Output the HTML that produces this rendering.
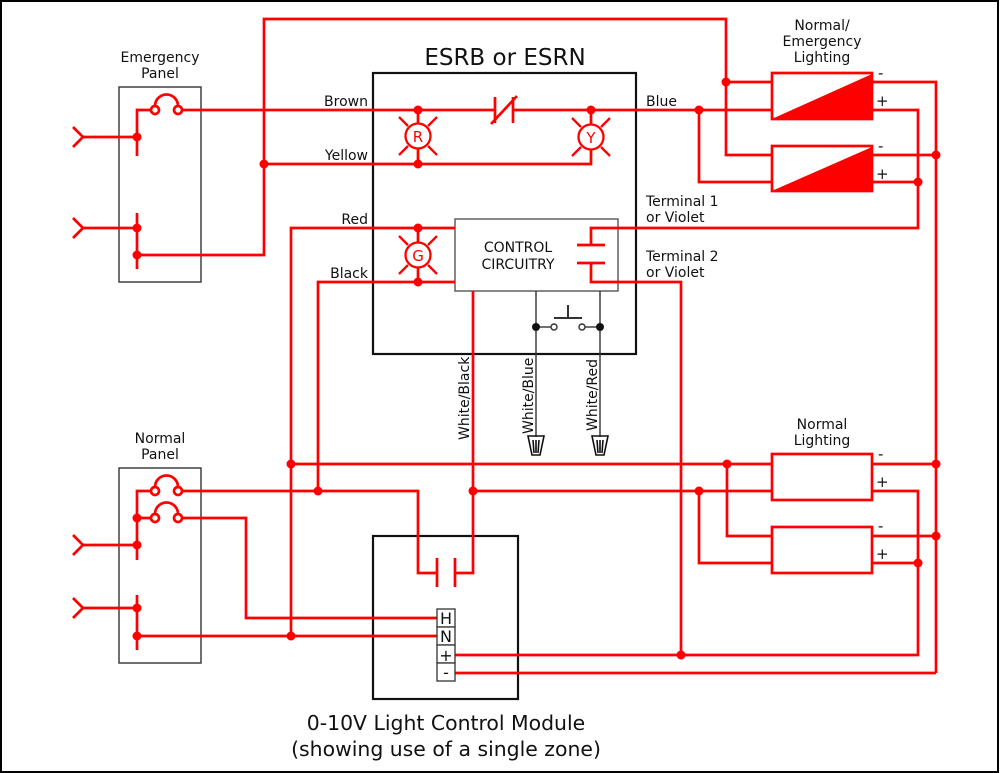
<!DOCTYPE html>
<html><head><meta charset="utf-8"><style>
html,body{margin:0;padding:0;background:#fff}
svg{display:block}
text{font-family:"DejaVu Sans","Liberation Sans",sans-serif;fill:#111}
</style></head><body>
<svg width="1000" height="773" viewBox="0 0 1000 773" xmlns="http://www.w3.org/2000/svg">
<rect x="1" y="1" width="997" height="771" fill="none" stroke="#000" stroke-width="2"/>
<g fill="none" stroke="#333" stroke-width="1.4">
<rect x="119" y="87" width="82" height="195"/>
<rect x="119" y="468" width="82" height="195"/>
<rect x="455" y="219" width="163" height="72" stroke="#555"/>
</g>
<g fill="none" stroke="#111" stroke-width="2.2">
<rect x="373" y="73" width="263" height="281"/>
<rect x="373" y="536" width="145" height="163"/>
</g>
<g stroke="#333" stroke-width="1.4" fill="none">
<line x1="536" y1="291" x2="536" y2="437"/>
<line x1="600" y1="291" x2="600" y2="437"/>
<line x1="536" y1="327" x2="551" y2="327"/>
<line x1="585" y1="327" x2="600" y2="327"/>
<line x1="554" y1="318" x2="582" y2="318" stroke-width="2"/>
<line x1="568" y1="305" x2="568" y2="318" stroke-width="2"/>
<circle cx="554" cy="327" r="3" fill="#fff"/>
<circle cx="582" cy="327" r="3" fill="#fff"/>
<path d="M528 436 L544 436 L540 455 L532 455 Z M533 440 L534 453 M536 440 L536 453 M539 440 L538 453" stroke="#111" stroke-width="1.6"/>
<path d="M592 436 L608 436 L604 455 L596 455 Z M597 440 L598 453 M600 440 L600 453 M603 440 L602 453" stroke="#111" stroke-width="1.6"/>
</g>
<circle cx="536" cy="327" r="4" fill="#111"/>
<circle cx="600" cy="327" r="4" fill="#111"/>
<g stroke="#f00" stroke-width="2.7" fill="none">
<path d="M73 127 L83 137 L73 147 M83 137 L137 137"/>
<path d="M73 218 L83 228 L73 238 M83 228 L137 228"/>
<path d="M137 156 V110 H151"/>
<path d="M137 213 V269"/>
<path d="M155 106 A11.5 11.5 0 0 1 178 106"/>
<circle cx="155" cy="110" r="4" fill="#fff"/>
<circle cx="178" cy="110" r="4" fill="#fff"/>
<path d="M182 110 H495 M513 110 H772"/>
<path d="M495 97 V123 M513 97 V123 M491 124 L517 96"/>
<path d="M137 255 H264 V19 H726 V155 H772 M726 82 H772"/>
<path d="M264 164 H591 V149"/>
<path d="M418 110 V124 M418 148 V164 M591 110 V125"/>
<path d="M699 110 V182 H772"/>
<rect x="772" y="73" width="100" height="46"/>
<rect x="772" y="146" width="100" height="45"/>
<path d="M872 82 H936 V673 M872 155 H936 M872 110 H918 V228 H591 V245"/>
<path d="M577 245 H605 M577 263 H605"/>
<path d="M872 182 H918"/>
<path d="M591 263 V282 H681 V655"/>
<path d="M291 636 V228 H455 M318 491 V282 H455"/>
<path d="M418 228 V243 M418 267 V282"/>
<path d="M73 535 L83 545 L73 555 M83 545 L137 545"/>
<path d="M73 598 L83 608 L73 618 M83 608 L137 608"/>
<path d="M137 560 V491 H151 M137 518 H151"/>
<path d="M137 595 V650"/>
<path d="M155 487 A11.5 11.5 0 0 1 178 487 M155 514 A11.5 11.5 0 0 1 178 514"/>
<circle cx="155" cy="491" r="4" fill="#fff"/>
<circle cx="178" cy="491" r="4" fill="#fff"/>
<circle cx="155" cy="518" r="4" fill="#fff"/>
<circle cx="178" cy="518" r="4" fill="#fff"/>
<path d="M182 491 H418 V573 H437 M437 558 V587 M455 558 V587 M455 573 H473 V291"/>
<path d="M473 491 H772"/>
<path d="M182 518 H246 V618 H437"/>
<path d="M137 636 H437"/>
<path d="M291 464 H772"/>
<path d="M455 655 H918 V491 H872 M455 673 H936"/>
<rect x="772" y="454" width="100" height="46"/>
<rect x="772" y="527" width="100" height="46"/>
<path d="M727 464 V536 H772 M699 491 V563 H772"/>
<path d="M872 464 H936 M872 536 H936 M872 563 H918"/>
</g>
<path d="M774 118 L872 74 L872 118 Z" fill="#f00"/>
<path d="M774 190 L872 147 L872 190 Z" fill="#f00"/>
<g stroke="#f00" stroke-width="2.3" fill="#fff">
<g transform="translate(418,136)"><circle r="12.5"/><path d="M10 10 L19 19 M-10 10 L-19 19 M10 -10 L19 -19 M-10 -10 L-19 -19"/></g>
<g transform="translate(591,137)"><circle r="12.5"/><path d="M10 10 L19 19 M-10 10 L-19 19 M10 -10 L19 -19 M-10 -10 L-19 -19"/></g>
<g transform="translate(418,255)"><circle r="12.5"/><path d="M10 10 L19 19 M-10 10 L-19 19 M10 -10 L19 -19 M-10 -10 L-19 -19"/></g>
</g>
<g font-size="15" text-anchor="middle">
<text x="418" y="142" style="fill:#f00">R</text>
<text x="591" y="143" style="fill:#f00">Y</text>
<text x="418" y="261" style="fill:#f00">G</text>
</g>
<g fill="#f00">
<circle cx="137" cy="137" r="4.5"/><circle cx="137" cy="228" r="4.5"/><circle cx="137" cy="255" r="4.5"/>
<circle cx="264" cy="164" r="4.5"/><circle cx="418" cy="110" r="4.5"/><circle cx="418" cy="164" r="4.5"/>
<circle cx="591" cy="110" r="4.5"/><circle cx="699" cy="110" r="4.5"/><circle cx="726" cy="82" r="4.5"/>
<circle cx="936" cy="155" r="4.5"/><circle cx="918" cy="182" r="4.5"/>
<circle cx="418" cy="228" r="4.5"/><circle cx="418" cy="282" r="4.5"/>
<circle cx="137" cy="518" r="4.5"/><circle cx="137" cy="545" r="4.5"/><circle cx="137" cy="608" r="4.5"/><circle cx="137" cy="636" r="4.5"/>
<circle cx="291" cy="464" r="4.5"/><circle cx="291" cy="636" r="4.5"/><circle cx="318" cy="491" r="4.5"/>
<circle cx="473" cy="491" r="4.5"/><circle cx="699" cy="491" r="4.5"/><circle cx="727" cy="464" r="4.5"/>
<circle cx="936" cy="464" r="4.5"/><circle cx="936" cy="536" r="4.5"/><circle cx="918" cy="563" r="4.5"/>
<circle cx="681" cy="655" r="4.5"/>
</g>
<g fill="#fff" stroke="#333" stroke-width="1.3">
<rect x="437" y="609" width="18" height="18"/><rect x="437" y="627" width="18" height="18"/>
<rect x="437" y="645" width="18" height="18"/><rect x="437" y="663" width="18" height="18"/>
</g>
<g font-size="16" text-anchor="middle">
<text x="446" y="624">H</text><text x="446" y="642">N</text><text x="446" y="661">+</text><text x="446" y="678">-</text>
</g>
<g font-size="14" text-anchor="middle">
<text x="160" y="62">Emergency</text><text x="160" y="78">Panel</text>
<text x="160" y="443">Normal</text><text x="160" y="459">Panel</text>
<text x="822" y="30">Normal/</text><text x="822" y="46">Emergency</text><text x="822" y="62">Lighting</text>
<text x="822" y="429">Normal</text><text x="822" y="445">Lighting</text>
<text x="518" y="252">CONTROL</text><text x="518" y="269">CIRCUITRY</text>
</g>
<text x="505" y="65" font-size="23" text-anchor="middle">ESRB or ESRN</text>
<g font-size="14" text-anchor="end">
<text x="368" y="106">Brown</text><text x="368" y="160">Yellow</text>
<text x="368" y="224">Red</text><text x="368" y="278">Black</text>
</g>
<g font-size="14">
<text x="646" y="106">Blue</text>
<text x="646" y="206">Terminal 1</text><text x="646" y="222">or Violet</text>
<text x="646" y="261">Terminal 2</text><text x="646" y="277">or Violet</text>
</g>
<g font-size="15">
<text x="878" y="78">-</text><text x="876" y="106">+</text>
<text x="878" y="151">-</text><text x="876" y="179">+</text>
<text x="878" y="459">-</text><text x="876" y="487">+</text>
<text x="878" y="531">-</text><text x="876" y="559">+</text>
</g>
<g font-size="14">
<text transform="translate(469,440) rotate(-90)">White/Black</text>
<text transform="translate(533,434) rotate(-90)">White/Blue</text>
<text transform="translate(597,431) rotate(-90)">White/Red</text>
</g>
<g font-size="20.4" text-anchor="middle">
<text x="446" y="730">0-10V Light Control Module</text>
<text x="446" y="756">(showing use of a single zone)</text>
</g>
</svg>
</body></html>
